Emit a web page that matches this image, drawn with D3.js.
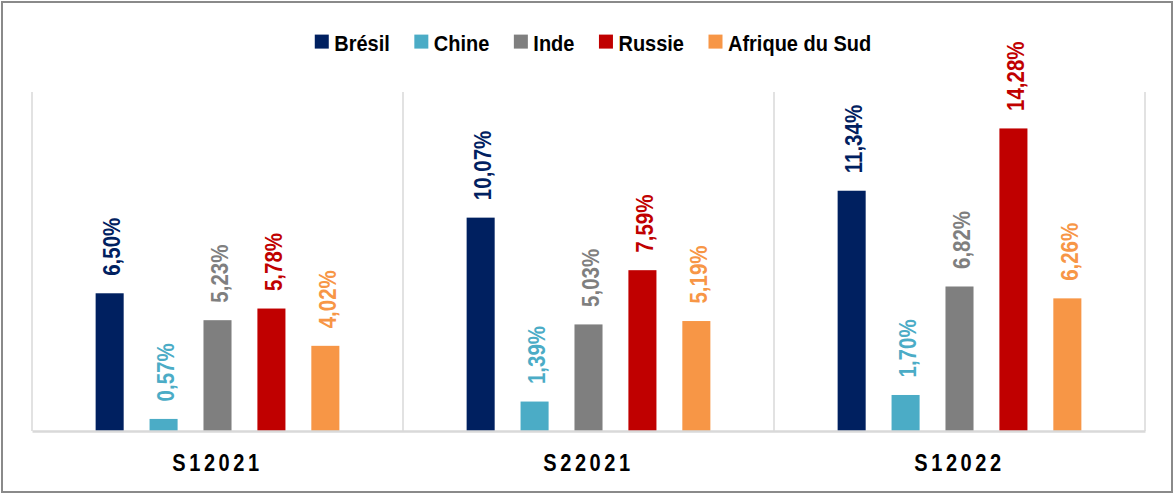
<!DOCTYPE html>
<html>
<head>
<meta charset="utf-8">
<script src="https://cdn.jsdelivr.net/npm/d3@7"></script>
<style>
  html, body { margin: 0; padding: 0; background: #fff; }
  svg { display: block; }
  text { font-family: "Liberation Sans", Arial, sans-serif; font-weight: bold; }
</style>
</head>
<body>
<svg id="chart" width="1174" height="495"></svg>
<script>
const categories = ["S12021", "S22021", "S12022"];
const seriesNames = ["Brésil", "Chine", "Inde", "Russie", "Afrique du Sud"];
const seriesColors = ["#002060", "#4BACC6", "#7F7F7F", "#C00000", "#F79646"];
const bresil = [6.50, 10.07, 11.34];
const chine = [0.57, 1.39, 1.70];
const inde = [5.23, 5.03, 6.82];
const russie = [5.78, 7.59, 14.28];
const afrique = [4.02, 5.19, 6.26];
const seriesValues = [bresil, chine, inde, russie, afrique];

const fmt = v => v.toFixed(2).replace(".", ",") + "%";

const W = 1174, H = 495;
const margin = { left: 32, right: 29, top: 92, bottom: 64 };
const svg = d3.select("#chart");

// outer border
svg.append("rect").attr("x", 2).attr("y", 2).attr("width", W - 4).attr("height", H - 5)
  .attr("fill", "#fff").attr("stroke", "#8a8a8a").attr("stroke-width", 2);

const x0 = d3.scaleBand().domain(categories).range([margin.left, W - margin.right]).padding(0);
const x1 = d3.scaleBand().domain(seriesNames).range([0, x0.bandwidth()]).paddingInner(0.48).paddingOuter(1.18);
const y = d3.scaleLinear().domain([0, 16]).range([H - margin.bottom, margin.top]);

// vertical separators
const seps = categories.map(c => x0(c)).concat([x0.range()[1]]);
svg.append("g").selectAll("line").data(seps).join("line")
  .attr("x1", d => d).attr("x2", d => d)
  .attr("y1", y(16)).attr("y2", y(0))
  .attr("stroke", "#d9d9d9").attr("stroke-width", 1.5);

// bars
const data = [];
categories.forEach((c, i) => seriesNames.forEach((s, j) => data.push({ c, s, j, v: seriesValues[j][i] })));

svg.append("g").selectAll("rect").data(data).join("rect")
  .attr("x", d => x0(d.c) + x1(d.s))
  .attr("y", d => y(d.v))
  .attr("width", x1.bandwidth())
  .attr("height", d => y(0) - y(d.v))
  .attr("fill", d => seriesColors[d.j]);

// value labels (rotated)
svg.append("g").selectAll("text").data(data).join("text")
  .attr("transform", d => `translate(${x0(d.c) + x1(d.s) + x1.bandwidth() / 2 + 10.5},${y(d.v) - 17.5}) rotate(-90) scale(1,1.2)`)
  .attr("text-anchor", "start")
  .style("font-size", "20.5px")
  .attr("fill", d => seriesColors[d.j])
  .text(d => fmt(d.v));

// baseline axis
const xAxis = d3.axisBottom(x0).tickSize(0).tickPadding(0);
const ax = svg.append("g").attr("transform", `translate(0,${y(0)})`).call(xAxis);
ax.attr("font-family", null).attr("font-size", null);
ax.select(".domain").attr("stroke", "#d9d9d9").attr("stroke-width", 2.5);
ax.selectAll(".tick text")
  .attr("y", 0)
  .attr("dy", 0)
  .attr("transform", "translate(0,40) scale(1,1.15)")
  .style("font-size", "20px")
  .style("letter-spacing", "3.6px")
  .attr("fill", "#000");

// legend
const legend = svg.append("g");
let lx = 0;
seriesNames.forEach((s, j) => {
  const g = legend.append("g");
  g.append("rect").attr("x", 0).attr("y", -16.8).attr("width", 14).attr("height", 14).attr("fill", seriesColors[j]);
  const t = g.append("text").attr("transform", "translate(19.5,0) scale(1,1.12)")
    .style("font-size", "20px").attr("fill", "#000").text(s);
  const w = 19.5 + t.node().getComputedTextLength();
  g.attr("transform", `translate(${lx},0)`);
  lx += w + 24.5;
});
const totalW = lx - 24.5;
legend.attr("transform", `translate(${593 - totalW / 2},51.4)`);
</script>
</body>
</html>
